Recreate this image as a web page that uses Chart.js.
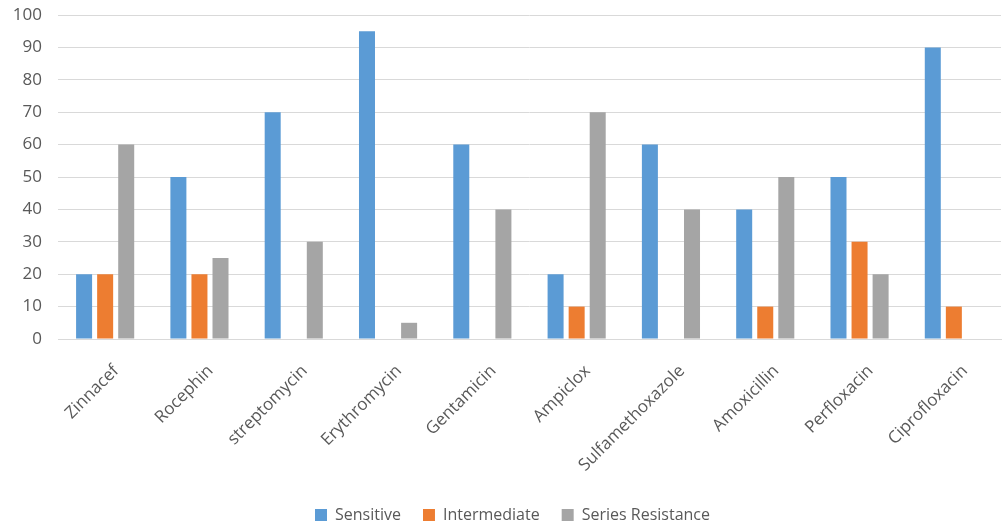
<!DOCTYPE html>
<html>
<head>
<meta charset="utf-8">
<script src="https://cdn.jsdelivr.net/npm/chart.js@4"></script>
<style>
  html, body { margin: 0; padding: 0; background: #fff; }
  #wrap { width: 1007px; height: 527px; position: relative; }
</style>
</head>
<body>
<div id="wrap"><canvas id="chart"></canvas></div>
<script>
// 数据
const categories = ['Zinnacef', 'Rocephin', 'streptomycin', 'Erythromycin', 'Gentamicin',
  'Ampiclox', 'Sulfamethoxazole', 'Amoxicillin', 'Perfloxacin', 'Ciprofloxacin'];
const sensitive = [20, 50, 70, 95, 60, 20, 60, 40, 50, 90];
const intermediate = [20, 20, 0, 0, 0, 10, 0, 10, 30, 10];
const resistance = [60, 25, 30, 5, 40, 70, 40, 50, 20, 0];
const yTicks = { min: 0, max: 100, step: 10 };

const textColor = '#595959';
const gridColor = '#d9d9d9';
const fontFamily = '"Open Sans", "Liberation Sans", sans-serif';

// 图例整体下移几像素
const legendShift = {
  id: 'legendShift',
  afterLayout(chart) {
    if (chart.legend) {
      chart.legend.top += 6;
      chart.legend.bottom += 6;
      chart.legend.left += 6;
      chart.legend.right += 6;
    }
  }
};

const ctx = document.getElementById('chart').getContext('2d');
new Chart(ctx, {
  type: 'bar',
  data: {
    labels: categories,
    datasets: [
      { label: 'Sensitive', data: sensitive, backgroundColor: '#5b9bd5' },
      { label: 'Intermediate', data: intermediate, backgroundColor: '#ed7d31' },
      { label: 'Series Resistance', data: resistance, backgroundColor: '#a5a5a5' }
    ]
  },
  plugins: [legendShift],
  options: {
    responsive: true,
    maintainAspectRatio: false,
    animation: false,
    datasets: {
      bar: { categoryPercentage: 0.67, barPercentage: 0.76 }
    },
    layout: { padding: { top: 15, left: 12, right: 6, bottom: 0 } },
    plugins: {
      tooltip: { enabled: false },
      legend: {
        position: 'bottom',
        labels: {
          color: textColor,
          font: { family: fontFamily, size: 16 },
          boxWidth: 12,
          boxHeight: 12,
          padding: 22
        }
      }
    },
    scales: {
      x: {
        grid: { display: false },
        border: { display: true, color: gridColor, width: 1 },
        ticks: {
          color: textColor,
          font: { family: fontFamily, size: 17 },
          minRotation: 45,
          maxRotation: 45,
          padding: 14,
          labelOffset: 11
        },
        // 留出标签与图例之间的空白，左侧不为斜标签让位
        afterFit(scale) {
          scale.height = 140;
          scale.paddingLeft = 0;
        }
      },
      y: {
        min: yTicks.min,
        max: yTicks.max,
        grid: { color: gridColor, drawTicks: false },
        border: { display: false },
        ticks: {
          stepSize: yTicks.step,
          color: textColor,
          font: { family: fontFamily, size: 17 },
          padding: 16
        },
        afterFit(scale) {
          scale.width = 46;
          scale.paddingTop = 0;
          scale.paddingBottom = 0;
        }
      }
    }
  }
});
</script>
</body>
</html>
